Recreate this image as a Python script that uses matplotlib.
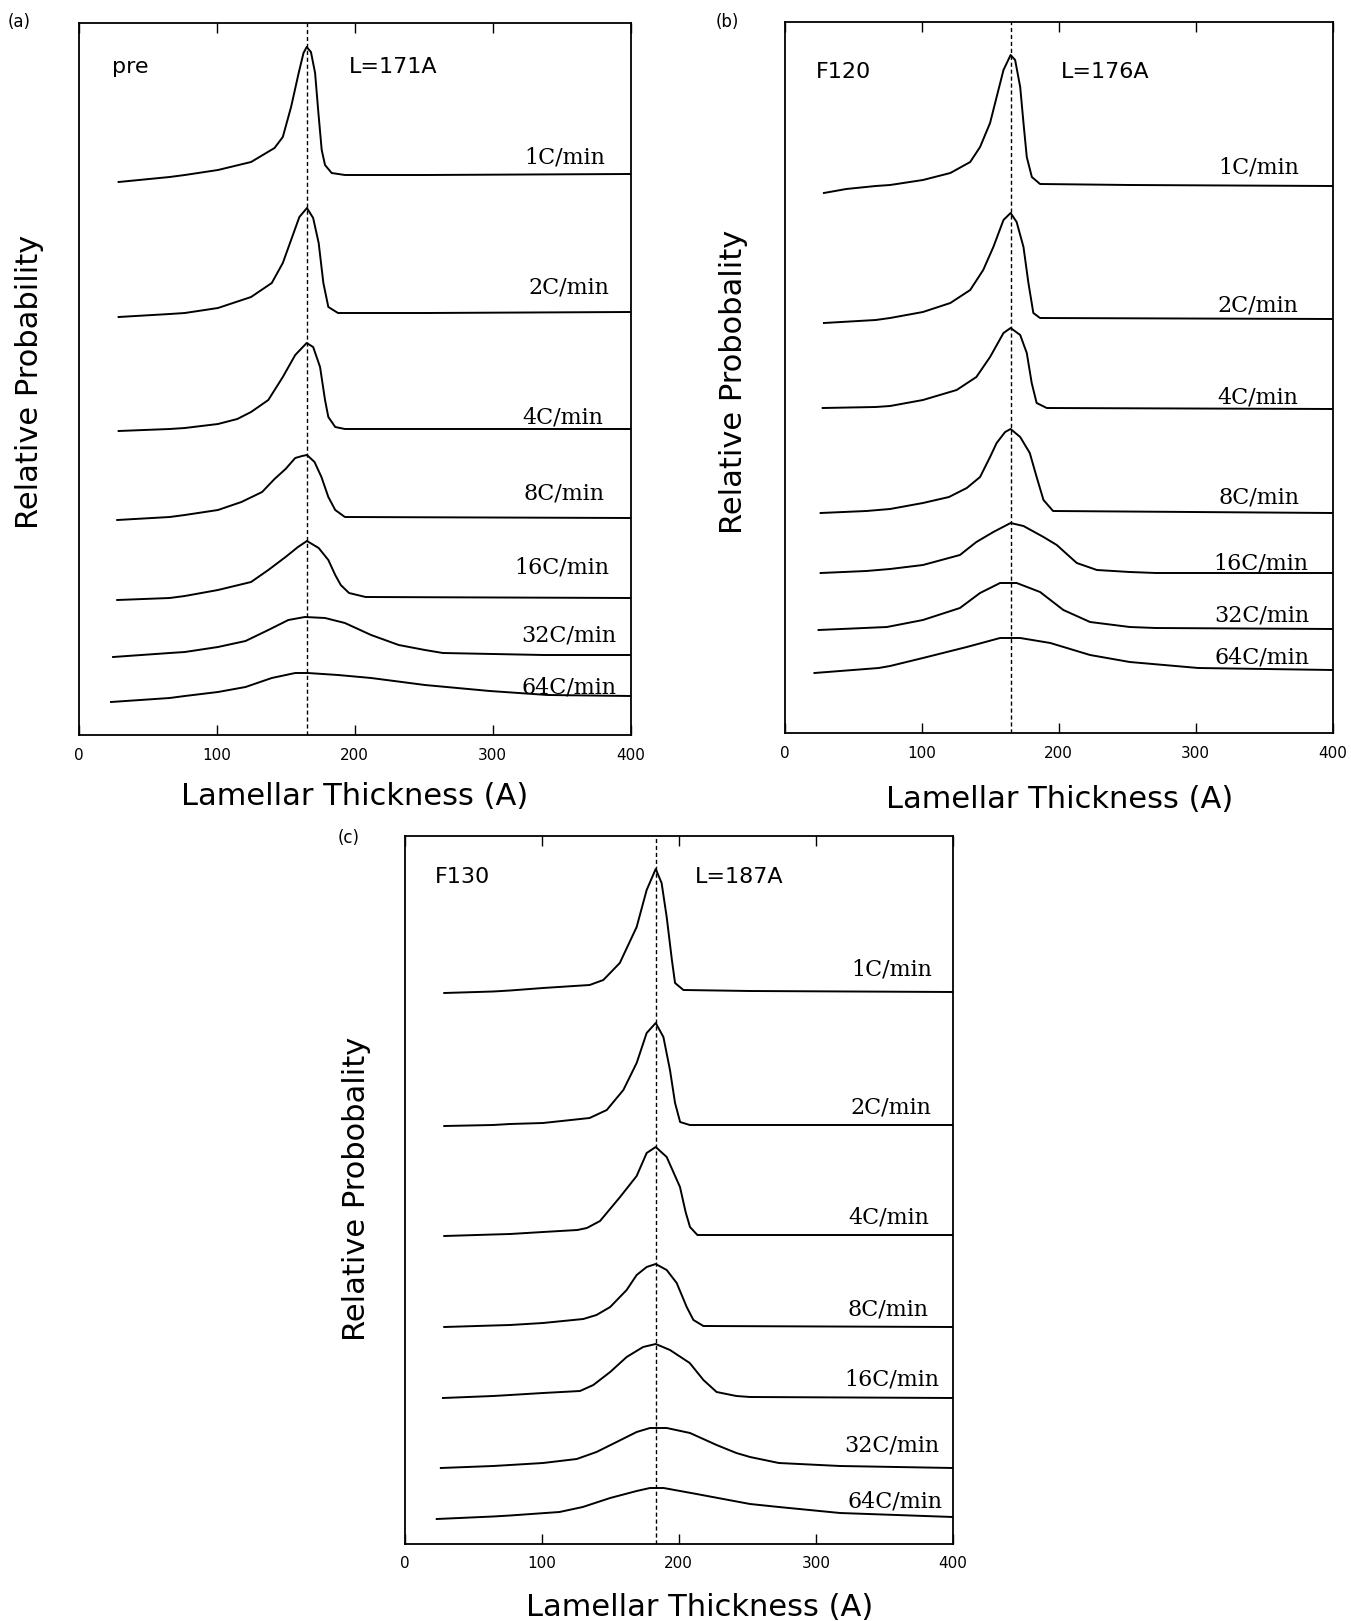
import matplotlib
matplotlib.use("Agg")
import matplotlib.pyplot as plt

# ---------------- data ----------------
rates = ["1C/min", "2C/min", "4C/min", "8C/min", "16C/min", "32C/min", "64C/min"]
tick_values = [0, 100, 200, 300, 400]
tick_labels = ["0", "100", "200", "300", "400"]
sample_names = ["pre", "F120", "F130"]
long_period = ["L=171A", "L=176A", "L=187A"]
peak_lines = [165.3, 165.0, 183.2]

# panel (a) "pre": x = lamellar thickness (A), y = relative probability (offset, arb. units)
pre_1_x = [29, 66, 77, 101, 125, 142, 148, 154, 159.5, 163, 165.3, 168.4, 171.4, 173.8, 176.2, 178.6, 183.4, 193, 251, 400]
pre_1_y = [553, 558, 560, 565, 573, 587, 598, 628, 662, 682, 688, 683, 662, 622, 585, 570, 562, 560, 560, 561]
pre_2_x = [29, 66, 77, 101, 125, 140, 148, 154, 160, 165.5, 170, 174, 177.4, 181, 188, 251, 400]
pre_2_y = [418, 421, 422, 427, 438, 452, 472, 495, 518, 527, 517, 492, 452, 428, 422, 422, 423]
pre_4_x = [29, 66, 77, 101, 115, 125, 137.5, 148, 157, 165.3, 170, 175, 178.6, 181, 186, 193, 400]
pre_4_y = [304, 306, 307, 311, 316, 323, 335, 358, 380, 392, 388, 368, 335, 318, 308, 306, 306]
pre_8_x = [28, 66, 77, 101, 118, 133, 142, 150, 157, 162, 165.5, 171, 176, 181, 186, 193, 400]
pre_8_y = [215, 218, 220, 225, 233, 243, 256, 266, 277, 279, 280, 273, 258, 238, 225, 218, 217]
pre_16_x = [28, 66, 77, 101, 125, 137.5, 150, 159, 165.5, 174, 181, 186, 190, 196, 208, 400]
pre_16_y = [135, 137, 139, 145, 153, 165, 178, 188, 194, 187, 175, 160, 150, 142, 138, 137]
pre_32_x = [25, 66, 77, 101, 121, 137.5, 152, 164, 178.6, 193, 212, 232, 251, 264, 337, 400]
pre_32_y = [78, 82, 83, 88, 94, 105, 115, 118, 117, 112, 100, 90, 85, 82, 80, 80]
pre_64_x = [23.5, 66, 77, 101, 121, 140, 157, 166, 188, 212, 251, 298, 340, 400]
pre_64_y = [33, 37, 39, 43, 48, 57, 62, 62, 60, 57, 50, 44, 40, 39]

# panel (b) "F120"
f120_1_x = [28.7, 45, 66.5, 77, 101, 121, 135.5, 142.7, 150, 154.8, 159.8, 165, 168.3, 172, 174.4, 176.8, 180.5, 186.5, 252, 400]
f120_1_y = [540, 544, 547, 548, 553, 560, 571, 586, 610, 636, 663, 678, 673, 646, 610, 576, 556, 549, 548, 547]
f120_2_x = [28.7, 66.5, 77, 101, 121, 135.5, 145, 152.4, 159.8, 165, 169.4, 174.4, 178, 181.6, 186.5, 400]
f120_2_y = [410, 413, 415, 421, 430, 443, 463, 486, 513, 520, 511, 486, 450, 420, 415, 414]
f120_4_x = [27.8, 66.5, 77, 101, 125.6, 140, 150, 159.8, 165, 172, 176.8, 180.4, 184, 191.4, 400]
f120_4_y = [325, 326, 327, 333, 343, 356, 376, 400, 405, 398, 380, 350, 330, 325, 324]
f120_8_x = [26.3, 59.6, 77, 101, 120, 133, 142.7, 150, 154.8, 161, 165, 172, 179, 184, 189, 196, 400]
f120_8_y = [220, 222, 224, 230, 236, 245, 256, 276, 290, 301, 304, 296, 280, 256, 233, 222, 220]
f120_16_x = [26.3, 59.6, 77, 101, 128, 140, 152.4, 165, 174.4, 189, 198.7, 213.3, 228, 252, 271, 400]
f120_16_y = [160, 162, 164, 168, 178, 191, 201, 210, 207, 196, 188, 170, 163, 161, 160, 160]
f120_32_x = [24.8, 74.7, 101, 128, 142.7, 157.3, 169.4, 186.5, 203.5, 223, 252, 271, 400]
f120_32_y = [103, 106, 113, 125, 140, 150, 150, 141, 123, 111, 106, 105, 104]
f120_64_x = [21.8, 68.7, 77, 101, 133, 157.3, 172, 194, 223, 252, 302, 400]
f120_64_y = [60, 65, 67, 75, 86, 95, 95, 90, 78, 71, 65, 63]

# panel (c) "F130"
f130_1_x = [29, 64.6, 77, 101, 135, 145, 157, 169.3, 176.6, 183.2, 187.5, 191.2, 195, 197.3, 203.4, 252, 400]
f130_1_y = [551, 552.5, 553.5, 556, 559, 564, 581, 617, 654, 675, 661, 627, 584, 561, 554, 553, 552]
f130_2_x = [29, 64.6, 77, 101, 135, 147.5, 159.6, 169.3, 176.6, 183.2, 188.8, 193.6, 197.3, 201, 208, 400]
f130_2_y = [418, 419, 420, 421, 426, 434, 454, 481, 511, 521, 507, 474, 441, 422, 419, 419]
f130_4_x = [29, 64.6, 77, 101, 126, 133, 142.6, 157.2, 169.3, 176.6, 183.2, 191.2, 200.9, 205, 208.2, 213.6, 400]
f130_4_y = [308, 309.5, 310, 312, 314, 316, 323, 347, 368, 391, 397, 387, 357, 332, 317, 309, 309]
f130_8_x = [29, 64.6, 77, 101, 130.4, 140, 150, 162, 169.3, 176.6, 183.2, 191.2, 198.5, 205.8, 210.7, 218, 400]
f130_8_y = [217, 218.5, 219, 221, 225, 229, 237, 254, 269, 277, 280, 274, 261, 237, 224, 218, 217]
f130_16_x = [28, 64.6, 77, 101, 128, 137.7, 150, 162, 174, 183.2, 193.6, 208, 218, 227.6, 242, 252, 400]
f130_16_y = [146, 148, 149, 151, 153, 159, 172, 187, 197, 200, 194, 181, 164, 152, 148, 147, 146]
f130_32_x = [26.5, 64.6, 77, 101, 125.6, 140, 154.7, 169.3, 179, 191.2, 208.2, 227.6, 242, 252, 273, 317.6, 400]
f130_32_y = [76, 78, 79, 81, 85, 92, 102, 112, 116, 116, 111, 99, 91, 87, 81, 78, 76]
f130_64_x = [23.5, 64.6, 77, 113, 130, 150, 169.3, 179, 189, 213, 252, 273, 317.6, 400]
f130_64_y = [25, 27.5, 28.5, 32, 37, 46, 53, 56, 56, 50, 40, 37, 31, 27]

curves = [
    [(pre_1_x, pre_1_y), (pre_2_x, pre_2_y), (pre_4_x, pre_4_y), (pre_8_x, pre_8_y),
     (pre_16_x, pre_16_y), (pre_32_x, pre_32_y), (pre_64_x, pre_64_y)],
    [(f120_1_x, f120_1_y), (f120_2_x, f120_2_y), (f120_4_x, f120_4_y), (f120_8_x, f120_8_y),
     (f120_16_x, f120_16_y), (f120_32_x, f120_32_y), (f120_64_x, f120_64_y)],
    [(f130_1_x, f130_1_y), (f130_2_x, f130_2_y), (f130_4_x, f130_4_y), (f130_8_x, f130_8_y),
     (f130_16_x, f130_16_y), (f130_32_x, f130_32_y), (f130_64_x, f130_64_y)],
]

# ---------------- layout ----------------
W, H = 1351, 1621
fig = plt.figure(figsize=(W / 100, H / 100), dpi=100)

# axes boxes in pixel coords: left, top, right, bottom
boxes = [(78.6, 23.3, 630.5, 735), (784.6, 21.7, 1332.5, 733), (404.5, 836, 953, 1544)]
ytops = [711.7, 711.3, 708]
panel_tags = ["(a)", "(b)", "(c)"]
tag_pos = [(19, 22), (727, 22), (349, 838)]
ylabels = ["Relative Probability", "Relative Probobality", "Relative Probobality"]
ylabel_pos = [(30, 382), (733, 382), (356, 1189)]
xlabel_pos = [(355, 797), (1060, 799), (700, 1607)]
# label anchors (right x in data units, center y in data units)
label_pos = [
    [(382, 577), (385, 448), (380, 318), (381, 242), (385, 167), (390, 100), (390, 48)],
    [(376, 565), (375, 428), (375, 336), (376, 236), (382, 170), (383, 117), (383, 75)],
    [(384.5, 574), (384.5, 437), (383, 327), (382, 235), (390, 164), (390, 99), (392, 42)],
]
name_pos = [(24, 668), (23, 661), (22, 667)]
L_pos = [(196, 668), (202, 661), (212, 667)]

SANS = ["DejaVu Sans"]
SERIF = ["DejaVu Serif"]

for i in range(3):
    l, t, r, b = boxes[i]
    ax = fig.add_axes([l / W, 1 - b / H, (r - l) / W, (b - t) / H])
    ax.set_xlim(0, 400)
    ax.set_ylim(0, ytops[i])
    ax.set_yticks([])
    ax.set_xticks(tick_values)
    ax.set_xticklabels(tick_labels, fontsize=11, family=SANS)
    ax.tick_params(axis="x", direction="in", length=7, width=1.0, top=True, bottom=True, pad=9)
    for sp in ax.spines.values():
        sp.set_linewidth(1.3)

    for (xs, ys) in curves[i]:
        ax.plot(xs, ys, color="black", lw=1.4, solid_joinstyle="round", clip_on=True)

    ax.axvline(peak_lines[i], color="black", lw=1.0, ls=(0, (3, 2)))

    for k, lab in enumerate(rates):
        lx, ly = label_pos[i][k]
        ax.text(lx, ly, lab, ha="right", va="center", fontsize=16, family=SERIF)

    ax.text(name_pos[i][0], name_pos[i][1], sample_names[i], ha="left", va="center",
            fontsize=16, family=SANS)
    ax.text(L_pos[i][0], L_pos[i][1], long_period[i], ha="left", va="center",
            fontsize=16, family=SANS)

    fig.text(tag_pos[i][0] / W, 1 - tag_pos[i][1] / H, panel_tags[i], ha="center", va="center",
             fontsize=12, family=SANS)
    fig.text(ylabel_pos[i][0] / W, 1 - ylabel_pos[i][1] / H, ylabels[i], rotation=90,
             ha="center", va="center", fontsize=22, family=SANS)
    fig.text(xlabel_pos[i][0] / W, 1 - xlabel_pos[i][1] / H, "Lamellar Thickness (A)",
             ha="center", va="center", fontsize=22, family=SANS)

fig.savefig("out.png", dpi=100)
